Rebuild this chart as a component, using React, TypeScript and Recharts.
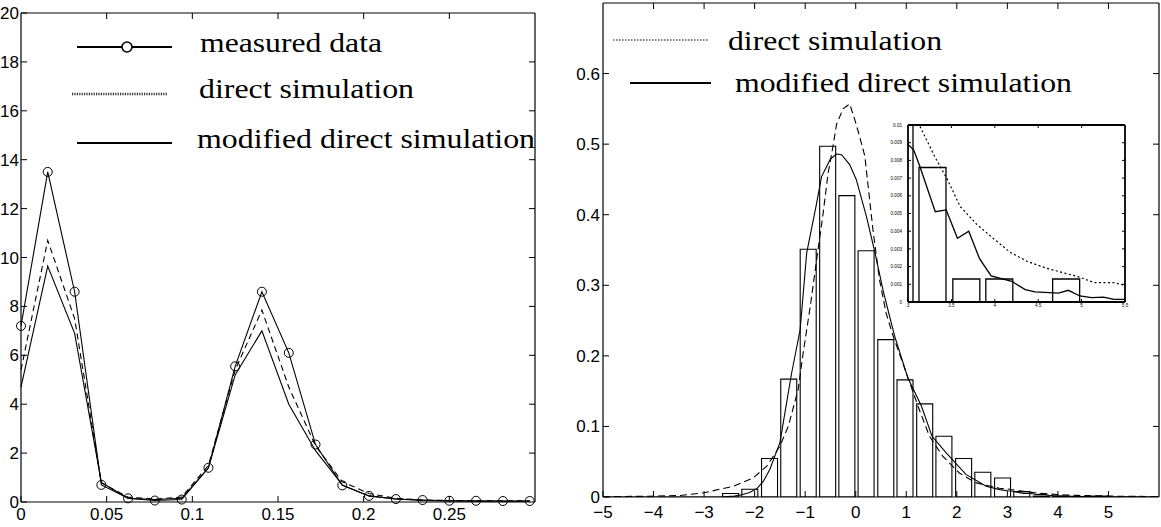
import React from "react";
import { ComposedChart, Line, Bar, XAxis, YAxis, Legend } from "recharts";

// ---- left panel: spectrum ----
const freq = [
  0, 0.0156, 0.0313, 0.0469, 0.0625, 0.0781, 0.0938, 0.1094, 0.125, 0.1406,
  0.1563, 0.1719, 0.1875, 0.2031, 0.2188, 0.2344, 0.25, 0.2656, 0.2813, 0.2969,
];
const measured = [7.2, 13.5, 8.6, 0.7, 0.15, 0.06, 0.1, 1.4, 5.55, 8.6, 6.1, 2.35, 0.68, 0.25, 0.12, 0.08, 0.05, 0.05, 0.04, 0.04];
const directLeft = [5.4, 10.7, 7.5, 0.78, 0.2, 0.12, 0.2, 1.5, 5.4, 7.85, 4.7, 2.3, 0.83, 0.35, 0.15, 0.08, 0.06, 0.05, 0.05, 0.05];
const modifiedLeft = [4.7, 9.65, 6.9, 0.8, 0.15, 0.1, 0.15, 1.4, 5.2, 7.0, 4.0, 2.1, 0.7, 0.25, 0.12, 0.06, 0.04, 0.03, 0.03, 0.03];
const leftXTicks = [0, 0.05, 0.1, 0.15, 0.2, 0.25];
const leftYTicks = [0, 2, 4, 6, 8, 10, 12, 14, 16, 18, 20];
const leftTopTicks = [0.05, 0.1, 0.15, 0.2, 0.25];
const leftSideTicks = [2, 4, 6, 8, 10, 12, 14, 16, 18];
const leftLabels = ["measured data", "direct simulation", "modified direct simulation"];

// ---- right panel: histogram + densities ----
const binCenters = [-2.48, -2.1, -1.71, -1.33, -0.945, -0.56, -0.18, 0.2, 0.59, 0.97, 1.36, 1.74, 2.13, 2.51, 2.9, 3.28, 3.67, 4.05, 4.44, 4.82, 5.21];
const binHeights = [0.005, 0.011, 0.0545, 0.167, 0.351, 0.497, 0.427, 0.349, 0.223, 0.166, 0.132, 0.086, 0.0545, 0.035, 0.027, 0.0076, 0.0013, 0.0013, 0, 0.0013, 0];

const directX = [-5, -4.1, -3.5, -3.0, -2.42, -2.03, -1.76, -1.5, -1.335, -1.14, -1.04, -0.9, -0.71, -0.645, -0.546, -0.45, -0.38, -0.25, -0.12, -0.02, 0.08, 0.18, 0.34, 0.47, 0.6, 0.74, 1.0, 1.23, 1.46, 1.72, 2.05, 2.38, 2.84, 3.0, 3.16, 3.31, 3.456, 3.6, 3.79, 3.98, 4.18, 4.37, 4.6, 4.83, 4.98, 5.14, 5.37, 5.5, 6];
const directY = [0.0005, 0.001, 0.002, 0.006, 0.0153, 0.027, 0.0436, 0.072, 0.1, 0.152, 0.204, 0.27, 0.369, 0.402, 0.459, 0.497, 0.528, 0.55, 0.557, 0.535, 0.51, 0.483, 0.379, 0.308, 0.261, 0.228, 0.176, 0.129, 0.086, 0.058, 0.034, 0.02, 0.0125, 0.0113, 0.0097, 0.0082, 0.0069, 0.0054, 0.0044, 0.0036, 0.0028, 0.0023, 0.0019, 0.0016, 0.0014, 0.0011, 0.0011, 0.00094, 0.0006];

const modifiedX = [-5, -3, -2.6, -2.4, -2.29, -2.1, -1.96, -1.83, -1.7, -1.5, -1.27, -1.1, -0.97, -0.78, -0.676, -0.5, -0.38, -0.28, -0.12, 0.01, 0.21, 0.375, 0.55, 0.77, 1.03, 1.3, 1.51, 1.79, 2.18, 2.58, 2.85, 3.0, 3.065, 3.134, 3.314, 3.44, 3.57, 3.7, 3.824, 3.958, 4.196, 4.35, 4.465, 4.733, 4.848, 4.98, 5.116, 5.25, 5.375, 5.5, 6];
const modifiedY = [0, 0.0001, 0.0004, 0.0012, 0.0026, 0.0065, 0.0116, 0.022, 0.039, 0.077, 0.175, 0.237, 0.346, 0.414, 0.454, 0.479, 0.486, 0.485, 0.471, 0.45, 0.398, 0.348, 0.29, 0.228, 0.169, 0.129, 0.086, 0.0626, 0.032, 0.0153, 0.0105, 0.0089, 0.0086, 0.0077, 0.0051, 0.0052, 0.0036, 0.004, 0.00245, 0.00147, 0.00117, 0.0007, 0.00057, 0.0005, 0.00066, 0.00034, 0.00025, 0.00028, 0.00015, 0.00015, 0.0001];

const rightXTicks = [-5, -4, -3, -2, -1, 0, 1, 2, 3, 4, 5];
const rightYTicks = [0, 0.1, 0.2, 0.3, 0.4, 0.5, 0.6];
const rightTopTicks = [-4, -3, -2, -1, 0, 1, 2, 3, 4, 5];
const rightSideTicks = [0.1, 0.2, 0.3, 0.4, 0.5, 0.6];
const insetXTicks = [3, 3.5, 4, 4.5, 5, 5.5];
const insetYTicks = [0, 0.001, 0.002, 0.003, 0.004, 0.005, 0.006, 0.007, 0.008, 0.009, 0.01];
const insetTopTicks = [3.5, 4, 4.5, 5];
const insetSideTicks = [0.001, 0.002, 0.003, 0.004, 0.005, 0.006, 0.007, 0.008, 0.009];
const rightLabels = ["direct simulation", "modified direct simulation"];

const SANS = "'Liberation Sans', Arial, Helvetica, sans-serif";
const SERIF = "'Liberation Serif', 'Times New Roman', serif";

const leftRows = freq.map((x, i) => ({ x, m: measured[i], d: directLeft[i], s: modifiedLeft[i] }));
const binRows = binCenters.map((c, i) => ({ c, h: binHeights[i] }));
const directRows = directX.map((x, i) => ({ x, y: directY[i] }));
const modifiedRows = modifiedX.map((x, i) => ({ x, y: modifiedY[i] }));

const blank = () => "";
const signed = (v: number) => (v < 0 ? `\u2212${-v}` : `${v}`);
const tickFont = { fill: "#000", fontSize: 17, fontFamily: SANS };
const tinyFont = { fill: "#000", fontSize: 4.6, fontFamily: SANS };
const axisLine = { stroke: "#000", strokeWidth: 1.2 };
const tickLine = { stroke: "#000", strokeWidth: 1 };
const keyText = { fontSize: 28, fontFamily: SERIF, fill: "#000" };

const LeftKey = () => (
  <svg width={540} height={160} style={{ overflow: "visible", display: "block" }}>
    <line x1={77} x2={172} y1={47} y2={47} stroke="#000" strokeWidth={2} />
    <circle cx={127} cy={47} r={5} fill="#fff" stroke="#000" strokeWidth={1.6} />
    <text x={200} y={52} textLength={182} lengthAdjust="spacingAndGlyphs" {...keyText}>{leftLabels[0]}</text>
    <line x1={72} x2={168} y1={94} y2={94} stroke="#333" strokeWidth={2.4} strokeDasharray="1.2 1.2" />
    <text x={199} y={98} textLength={215} lengthAdjust="spacingAndGlyphs" {...keyText}>{leftLabels[1]}</text>
    <line x1={77} x2={172} y1={143} y2={143} stroke="#000" strokeWidth={2} />
    <text x={197} y={148} textLength={338} lengthAdjust="spacingAndGlyphs" {...keyText}>{leftLabels[2]}</text>
  </svg>
);

const RightKey = () => (
  <svg width={600} height={110} style={{ overflow: "visible", display: "block" }}>
    <line x1={53} x2={148} y1={40} y2={40} stroke="#000" strokeWidth={1.2} strokeDasharray="1.5 1.5" />
    <text x={168} y={50} textLength={214} lengthAdjust="spacingAndGlyphs" {...keyText}>{rightLabels[0]}</text>
    <line x1={70} x2={151} y1={83} y2={83} stroke="#000" strokeWidth={2} />
    <text x={175} y={92} textLength={337} lengthAdjust="spacingAndGlyphs" {...keyText}>{rightLabels[1]}</text>
  </svg>
);

const SpectrumPanel = () => (
  <ComposedChart width={540} height={527} data={leftRows} margin={{ top: 12, right: 4, bottom: 0, left: 0 }}>
    <Line dataKey="m" xAxisId="b" yAxisId="l" type="linear" stroke="#000" strokeWidth={1.1}
      dot={{ r: 4.5, fill: "none", stroke: "#000", strokeWidth: 1 }} isAnimationActive={false} />
    <Line dataKey="d" xAxisId="b" yAxisId="l" type="linear" stroke="#000" strokeWidth={1.1}
      strokeDasharray="6 4" dot={false} isAnimationActive={false} />
    <Line dataKey="s" xAxisId="b" yAxisId="l" type="linear" stroke="#000" strokeWidth={1.1}
      dot={false} isAnimationActive={false} />
    <XAxis xAxisId="b" dataKey="x" type="number" domain={[0, 0.3]} ticks={leftXTicks} interval={0}
      height={25} tickSize={-6} tickMargin={12} tick={tickFont} axisLine={axisLine} tickLine={tickLine} />
    <XAxis xAxisId="t" orientation="top" dataKey="x" type="number" domain={[0, 0.3]} ticks={leftTopTicks} interval={0}
      allowDataOverflow height={1} tickSize={-6} tickFormatter={blank} axisLine={axisLine} tickLine={tickLine} />
    <YAxis yAxisId="l" type="number" domain={[0, 20]} ticks={leftYTicks} interval={0}
      width={21} tickSize={-6} tickMargin={8} tick={tickFont} axisLine={axisLine} tickLine={tickLine} />
    <YAxis yAxisId="r" orientation="right" type="number" domain={[0, 20]} ticks={leftSideTicks} interval={0}
      allowDataOverflow width={1} tickSize={-6} tickFormatter={blank} axisLine={axisLine} tickLine={tickLine} />
    <Legend verticalAlign="middle" align="center" layout="horizontal"
      wrapperStyle={{ left: 0, top: 0, width: 540, height: 160 }} content={() => <LeftKey />} />
  </ComposedChart>
);

const DensityPanel = () => (
  <ComposedChart width={601} height={527} data={binRows} barCategoryGap="9.6%"
    margin={{ top: 2, right: 1, bottom: 0, left: 0 }}>
    <Bar dataKey="h" xAxisId="b" yAxisId="l" fill="#fff" stroke="#000" strokeWidth={1.1} isAnimationActive={false} />
    <Line data={directRows} dataKey="y" xAxisId="lx" yAxisId="l" type="linear" stroke="#000" strokeWidth={1.1}
      strokeDasharray="7 4" dot={false} isAnimationActive={false} />
    <Line data={modifiedRows} dataKey="y" xAxisId="lx" yAxisId="l" type="linear" stroke="#000" strokeWidth={1.1}
      dot={false} isAnimationActive={false} />
    <XAxis xAxisId="lx" dataKey="x" type="number" domain={[-5, 6]} allowDataOverflow hide />
    <XAxis xAxisId="b" dataKey="c" type="number" domain={[-5, 6]} ticks={rightXTicks} interval={0} allowDataOverflow
      height={30} tickSize={-6} tickMargin={15} tick={tickFont} tickFormatter={signed} axisLine={axisLine} tickLine={tickLine} />
    <XAxis xAxisId="t" orientation="top" dataKey="c" type="number" domain={[-5, 6]} ticks={rightTopTicks} interval={0}
      allowDataOverflow height={1} tickSize={-6} tickFormatter={blank} axisLine={axisLine} tickLine={tickLine} />
    <YAxis yAxisId="l" type="number" domain={[0, 0.7]} ticks={rightYTicks} interval={0} allowDataOverflow
      width={43} tickSize={-6} tickMargin={9} tick={tickFont} axisLine={axisLine} tickLine={tickLine} />
    <YAxis yAxisId="r" orientation="right" type="number" domain={[0, 0.7]} ticks={rightSideTicks} interval={0}
      allowDataOverflow width={1} tickSize={-6} tickFormatter={blank} axisLine={axisLine} tickLine={tickLine} />
    <Legend verticalAlign="middle" align="center" layout="horizontal"
      wrapperStyle={{ left: 0, top: 0, width: 600, height: 110 }} content={() => <RightKey />} />
  </ComposedChart>
);

const insetAxis = { stroke: "#000", strokeWidth: 1.8 };

const TailInset = () => (
  <ComposedChart width={250} height={196} data={binRows} barCategoryGap="9.6%"
    margin={{ top: 6, right: 4, bottom: 0, left: 0 }}>
    <Bar dataKey="h" xAxisId="b" yAxisId="l" fill="#fff" stroke="#000" strokeWidth={1.3} isAnimationActive={false} />
    <Line data={directRows} dataKey="y" xAxisId="lx" yAxisId="l" type="linear" stroke="#000" strokeWidth={1.2}
      strokeDasharray="2 2.5" dot={false} isAnimationActive={false} />
    <Line data={modifiedRows} dataKey="y" xAxisId="lx" yAxisId="l" type="linear" stroke="#000" strokeWidth={1.3}
      dot={false} isAnimationActive={false} />
    <XAxis xAxisId="lx" dataKey="x" type="number" domain={[3, 5.5]} allowDataOverflow hide />
    <XAxis xAxisId="b" dataKey="c" type="number" domain={[3, 5.5]} ticks={insetXTicks} interval={0} allowDataOverflow
      height={12} tickSize={-3} tickMargin={5} tick={tinyFont} axisLine={insetAxis} tickLine={tickLine} />
    <XAxis xAxisId="t" orientation="top" dataKey="c" type="number" domain={[3, 5.5]} ticks={insetTopTicks} interval={0}
      allowDataOverflow height={1} tickSize={-3} tickFormatter={blank} axisLine={insetAxis} tickLine={tickLine} />
    <YAxis yAxisId="l" type="number" domain={[0, 0.01]} ticks={insetYTicks} interval={0} allowDataOverflow
      width={28} tickSize={-3} tickMargin={9} tick={tinyFont} axisLine={insetAxis} tickLine={tickLine} />
    <YAxis yAxisId="r" orientation="right" type="number" domain={[0, 0.01]} ticks={insetSideTicks} interval={0}
      allowDataOverflow width={1} tickSize={-3} tickFormatter={blank} axisLine={insetAxis} tickLine={tickLine} />
  </ComposedChart>
);

export default function App() {
  return (
    <div style={{ position: "absolute", left: 0, top: 0, width: 1161, height: 527, background: "#fff", overflow: "hidden" }}>
      <div style={{ position: "absolute", left: 0, top: 0 }}>
        <SpectrumPanel />
      </div>
      <div style={{ position: "absolute", left: 560, top: 0 }}>
        <DensityPanel />
      </div>
      <div style={{ position: "absolute", left: 880, top: 118 }}>
        <TailInset />
      </div>
    </div>
  );
}
